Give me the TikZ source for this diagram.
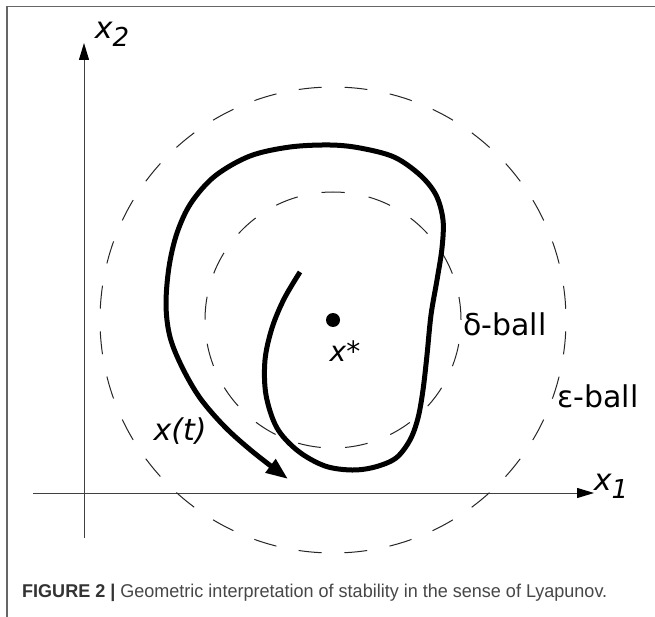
\documentclass[tikz,border=0pt]{standalone}
\usepackage{fontspec}
\usepackage{graphicx}
\setmainfont{DejaVu Sans}
\newfontfamily\capfont{Liberation Sans}
\usetikzlibrary{arrows.meta}
\newcommand\lowsub[1]{\raisebox{-8pt}{\fontsize{26}{30}\selectfont #1}}
\begin{document}
\begin{tikzpicture}[x=1pt,y=-1pt,
  lab/.style={font=\fontsize{30}{36}\selectfont, inner sep=0pt},
  axisline/.style={draw=black!75, line width=1pt, -{Triangle[length=17pt,width=10pt,color=black]}},
  ball/.style={draw=black!85, line width=1pt},
  traj/.style={line width=5pt, line cap=butt, -{Triangle[length=22pt,width=16pt]}},
  framebar/.style={draw=black!60, line width=1.5pt}]
\useasboundingbox (0,0) rectangle (655,617);
\fill[white] (0,0) rectangle (655,617);
% frame
\coordinate (fbl) at (7,617);
\coordinate (ftl) at (7,6.5);
\coordinate (ftr) at (655,6.5);
\draw[framebar] (fbl) -- (ftl) -- (ftr);
% axes
\coordinate (x1start) at (33,493);
\coordinate (x1end) at (594,493);
\coordinate (x2start) at (84,538);
\coordinate (x2end) at (84,43);
\draw[axisline] (x1start) -- (x1end);
\draw[axisline] (x2start) -- (x2end);
% balls
\coordinate (eqp) at (333,320);
\coordinate (epstop) at (333,87);
\coordinate (deltop) at (333,192);
\draw[ball, dash pattern=on 23pt off 22.75pt, dash phase=34.375pt] (epstop) arc[start angle=270, end angle=-90, radius=233];
\draw[ball, dash pattern=on 23pt off 24.3pt, dash phase=11.5pt] (deltop) arc[start angle=270, end angle=-90, radius=128];
% equilibrium
\fill (eqp) circle[radius=7];
% trajectory
\draw[traj] plot[smooth, tension=0.55] coordinates {
(300,272) (284,299) (272,328) (265,360) (266,395) (277,428) (298,451) (325,466)
(352,470) (375,467) (396,458) (410,440) (418,418) (423,390) (427,355) (431,315)
(437,280) (442,248) (443,220) (436,195) (420,175) (394,157) (360,148) (330,145)
(290,147) (250,156) (215,176) (191,203) (177,233) (169,267) (166,305) (170,337)
(182,367) (200,398) (225,427) (253,452) (288,479)};
% labels
\node[lab] (lx2) at (112,34) {\itshape x\lowsub{2}};
\node[lab] (lx1) at (611,486) {\itshape x\lowsub{1}};
\node[lab] (lxt) at (180,431) {\itshape x(t)};
\node[lab, font=\fontsize{28}{34}\selectfont] (lxs) at (345,351) {\itshape x*};
\node[lab, anchor=base west] (ldel) at (463,335) {δ-ball};
\node[lab, anchor=base west] (leps) at (557,407) {ε-ball};
% caption
\node[anchor=base west, inner sep=0pt, font=\capfont\fontsize{18.5}{22}\selectfont] (cap) at (22,597)
  {\resizebox{585pt}{\height}{\textcolor{black!80}{\bfseries FIGURE 2 |} \textcolor{black!72}{Geometric interpretation of stability in the sense of Lyapunov.}}};
\end{tikzpicture}
\end{document}
